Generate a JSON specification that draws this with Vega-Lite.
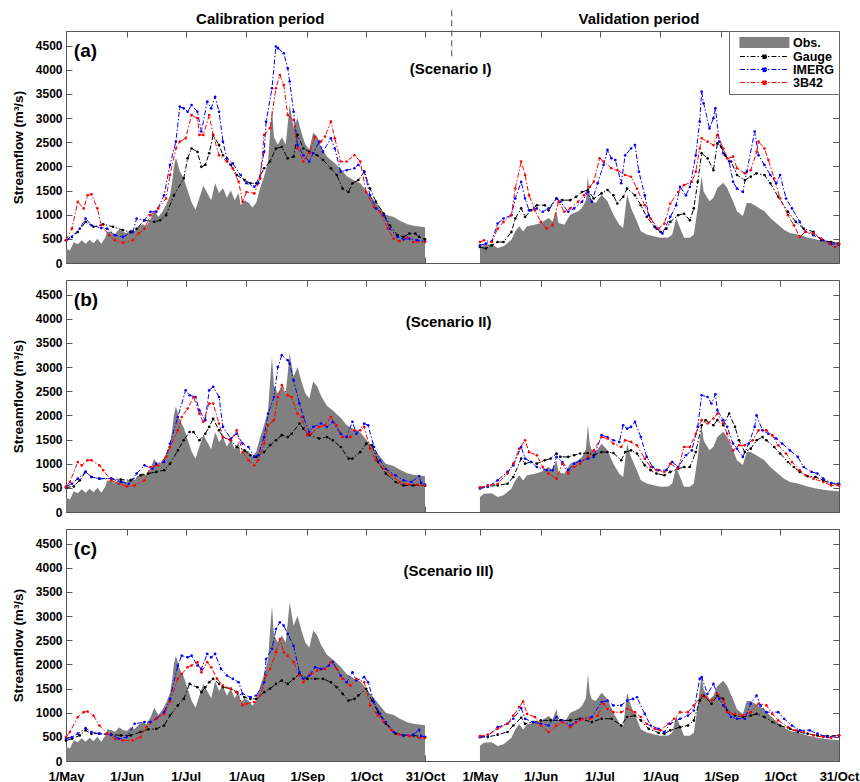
{
"$schema": "https://vega.github.io/schema/vega-lite/v6.json",
"padding": {"left": 10, "right": 0, "top": 5, "bottom": 0},
"spacing": 9,
"config": {
  "font": "Liberation Sans",
  "view": {"stroke": "#555", "strokeWidth": 1},
  "axis": {"labelFont": "Liberation Sans", "labelFontWeight": "bold", "labelFontSize": 12, "labelColor": "#000", "titleFont": "Liberation Sans", "titleFontWeight": "bold", "titleColor": "#000", "tickColor": "#555", "domain": false, "grid": false, "labelOverlap": false, "labelFlush": false},
  "text": {"font": "Liberation Sans", "fontWeight": "bold", "color": "#000"}
},
"resolve": {"scale": {"color": "independent"}, "legend": {"color": "independent"}},
"datasets": {
"obs": [
{"q":"c","t":0,"v":300},{"q":"c","t":2,"v":260},{"q":"c","t":4,"v":430},{"q":"c","t":6,"v":390},{"q":"c","t":8,"v":470},{"q":"c","t":10,"v":400},{"q":"c","t":12,"v":480},{"q":"c","t":14,"v":410},{"q":"c","t":16,"v":500},{"q":"c","t":18,"v":400},{"q":"c","t":20,"v":520},{"q":"c","t":21,"v":650},{"q":"c","t":23,"v":640},{"q":"c","t":25,"v":600},{"q":"c","t":27,"v":700},{"q":"c","t":29,"v":640},{"q":"c","t":31,"v":620},{"q":"c","t":33,"v":700},{"q":"c","t":35,"v":660},{"q":"c","t":37,"v":750},{"q":"c","t":39,"v":800},{"q":"c","t":41,"v":760},{"q":"c","t":43,"v":900},{"q":"c","t":45,"v":1100},{"q":"c","t":47,"v":950},{"q":"c","t":49,"v":1050},{"q":"c","t":51,"v":1200},{"q":"c","t":53,"v":1400},{"q":"c","t":54,"v":1650},{"q":"c","t":55,"v":2000},{"q":"c","t":56,"v":2180},{"q":"c","t":57,"v":2050},{"q":"c","t":58,"v":1900},{"q":"c","t":60,"v":1750},{"q":"c","t":62,"v":1500},{"q":"c","t":64,"v":1250},{"q":"c","t":66,"v":1100},{"q":"c","t":68,"v":1350},{"q":"c","t":70,"v":1600},{"q":"c","t":72,"v":1450},{"q":"c","t":74,"v":1300},{"q":"c","t":76,"v":1650},{"q":"c","t":78,"v":1450},{"q":"c","t":80,"v":1550},{"q":"c","t":82,"v":1350},{"q":"c","t":84,"v":1500},{"q":"c","t":86,"v":1300},{"q":"c","t":88,"v":1450},{"q":"c","t":89,"v":1200},{"q":"c","t":91,"v":1300},{"q":"c","t":93,"v":1250},{"q":"c","t":95,"v":1150},{"q":"c","t":97,"v":1250},{"q":"c","t":99,"v":1550},{"q":"c","t":101,"v":1800},{"q":"c","t":103,"v":2100},{"q":"c","t":104,"v":2700},{"q":"c","t":105,"v":3200},{"q":"c","t":106,"v":2600},{"q":"c","t":108,"v":2450},{"q":"c","t":110,"v":2600},{"q":"c","t":112,"v":2450},{"q":"c","t":114,"v":3280},{"q":"c","t":116,"v":2800},{"q":"c","t":118,"v":3000},{"q":"c","t":120,"v":2700},{"q":"c","t":122,"v":2450},{"q":"c","t":124,"v":2350},{"q":"c","t":126,"v":2700},{"q":"c","t":128,"v":2600},{"q":"c","t":130,"v":2400},{"q":"c","t":133,"v":2200},{"q":"c","t":136,"v":2100},{"q":"c","t":140,"v":1950},{"q":"c","t":143,"v":1800},{"q":"c","t":147,"v":1700},{"q":"c","t":150,"v":1650},{"q":"c","t":153,"v":1500},{"q":"c","t":157,"v":1300},{"q":"c","t":160,"v":1150},{"q":"c","t":163,"v":1000},{"q":"c","t":167,"v":950},{"q":"c","t":170,"v":880},{"q":"c","t":174,"v":800},{"q":"c","t":177,"v":770},{"q":"c","t":181,"v":750},{"q":"c","t":183,"v":740},
{"q":"v","t":211,"v":310},{"q":"v","t":213,"v":380},{"q":"v","t":217,"v":390},{"q":"v","t":220,"v":310},{"q":"v","t":223,"v":345},{"q":"v","t":227,"v":480},{"q":"v","t":229,"v":650},{"q":"v","t":231,"v":760},{"q":"v","t":233,"v":650},{"q":"v","t":235,"v":760},{"q":"v","t":239,"v":790},{"q":"v","t":242,"v":830},{"q":"v","t":246,"v":930},{"q":"v","t":248,"v":860},{"q":"v","t":250,"v":1070},{"q":"v","t":251,"v":830},{"q":"v","t":254,"v":790},{"q":"v","t":257,"v":1000},{"q":"v","t":261,"v":1070},{"q":"v","t":263,"v":1140},{"q":"v","t":265,"v":1300},{"q":"v","t":266,"v":1795},{"q":"v","t":267,"v":1400},{"q":"v","t":268,"v":1280},{"q":"v","t":270,"v":1240},{"q":"v","t":273,"v":1410},{"q":"v","t":276,"v":1280},{"q":"v","t":279,"v":1000},{"q":"v","t":282,"v":790},{"q":"v","t":284,"v":725},{"q":"v","t":286,"v":1410},{"q":"v","t":288,"v":1140},{"q":"v","t":291,"v":860},{"q":"v","t":293,"v":655},{"q":"v","t":296,"v":590},{"q":"v","t":300,"v":550},{"q":"v","t":303,"v":520},{"q":"v","t":307,"v":530},{"q":"v","t":309,"v":590},{"q":"v","t":311,"v":930},{"q":"v","t":313,"v":725},{"q":"v","t":315,"v":520},{"q":"v","t":318,"v":520},{"q":"v","t":320,"v":590},{"q":"v","t":322,"v":1140},{"q":"v","t":324,"v":1795},{"q":"v","t":325,"v":1480},{"q":"v","t":328,"v":1280},{"q":"v","t":330,"v":1350},{"q":"v","t":332,"v":1550},{"q":"v","t":335,"v":1660},{"q":"v","t":337,"v":1550},{"q":"v","t":340,"v":1280},{"q":"v","t":342,"v":1070},{"q":"v","t":345,"v":970},{"q":"v","t":347,"v":1240},{"q":"v","t":349,"v":1240},{"q":"v","t":352,"v":1170},{"q":"v","t":356,"v":1070},{"q":"v","t":359,"v":930},{"q":"v","t":363,"v":790},{"q":"v","t":366,"v":690},{"q":"v","t":369,"v":620},{"q":"v","t":373,"v":590},{"q":"v","t":378,"v":530},{"q":"v","t":383,"v":480},{"q":"v","t":388,"v":450},{"q":"v","t":394,"v":430}
],
"sim": [
{"p":"a","s":"Gauge","q":"c","t":0,"v":470},{"p":"a","s":"Gauge","q":"c","t":6,"v":640},{"p":"a","s":"Gauge","q":"c","t":10,"v":850},{"p":"a","s":"Gauge","q":"c","t":14,"v":750},{"p":"a","s":"Gauge","q":"c","t":19,"v":800},{"p":"a","s":"Gauge","q":"c","t":24,"v":750},{"p":"a","s":"Gauge","q":"c","t":29,"v":680},{"p":"a","s":"Gauge","q":"c","t":33,"v":640},{"p":"a","s":"Gauge","q":"c","t":36,"v":710},{"p":"a","s":"Gauge","q":"c","t":40,"v":885},{"p":"a","s":"Gauge","q":"c","t":45,"v":850},{"p":"a","s":"Gauge","q":"c","t":48,"v":885},{"p":"a","s":"Gauge","q":"c","t":51,"v":990},{"p":"a","s":"Gauge","q":"c","t":55,"v":1400},{"p":"a","s":"Gauge","q":"c","t":60,"v":1750},{"p":"a","s":"Gauge","q":"c","t":62,"v":2165},{"p":"a","s":"Gauge","q":"c","t":64,"v":2370},{"p":"a","s":"Gauge","q":"c","t":67,"v":2300},{"p":"a","s":"Gauge","q":"c","t":69,"v":1990},{"p":"a","s":"Gauge","q":"c","t":71,"v":2030},{"p":"a","s":"Gauge","q":"c","t":73,"v":2270},{"p":"a","s":"Gauge","q":"c","t":75,"v":2650},{"p":"a","s":"Gauge","q":"c","t":78,"v":2440},{"p":"a","s":"Gauge","q":"c","t":80,"v":2230},{"p":"a","s":"Gauge","q":"c","t":84,"v":2030},{"p":"a","s":"Gauge","q":"c","t":87,"v":1820},{"p":"a","s":"Gauge","q":"c","t":91,"v":1715},{"p":"a","s":"Gauge","q":"c","t":94,"v":1650},{"p":"a","s":"Gauge","q":"c","t":97,"v":1650},{"p":"a","s":"Gauge","q":"c","t":101,"v":1960},{"p":"a","s":"Gauge","q":"c","t":104,"v":2100},{"p":"a","s":"Gauge","q":"c","t":107,"v":2370},{"p":"a","s":"Gauge","q":"c","t":110,"v":2400},{"p":"a","s":"Gauge","q":"c","t":113,"v":2165},{"p":"a","s":"Gauge","q":"c","t":116,"v":2200},{"p":"a","s":"Gauge","q":"c","t":118,"v":2650},{"p":"a","s":"Gauge","q":"c","t":121,"v":2370},{"p":"a","s":"Gauge","q":"c","t":124,"v":2300},{"p":"a","s":"Gauge","q":"c","t":128,"v":2230},{"p":"a","s":"Gauge","q":"c","t":131,"v":2130},{"p":"a","s":"Gauge","q":"c","t":135,"v":1960},{"p":"a","s":"Gauge","q":"c","t":138,"v":1820},{"p":"a","s":"Gauge","q":"c","t":141,"v":1540},{"p":"a","s":"Gauge","q":"c","t":144,"v":1470},{"p":"a","s":"Gauge","q":"c","t":146,"v":1650},{"p":"a","s":"Gauge","q":"c","t":149,"v":1715},{"p":"a","s":"Gauge","q":"c","t":152,"v":1890},{"p":"a","s":"Gauge","q":"c","t":155,"v":1540},{"p":"a","s":"Gauge","q":"c","t":158,"v":1265},{"p":"a","s":"Gauge","q":"c","t":162,"v":1020},{"p":"a","s":"Gauge","q":"c","t":165,"v":780},{"p":"a","s":"Gauge","q":"c","t":169,"v":575},{"p":"a","s":"Gauge","q":"c","t":172,"v":540},{"p":"a","s":"Gauge","q":"c","t":175,"v":610},{"p":"a","s":"Gauge","q":"c","t":178,"v":610},{"p":"a","s":"Gauge","q":"c","t":180,"v":540},{"p":"a","s":"Gauge","q":"c","t":183,"v":490},
{"p":"a","s":"Gauge","q":"v","t":211,"v":330},{"p":"a","s":"Gauge","q":"v","t":214,"v":300},{"p":"a","s":"Gauge","q":"v","t":217,"v":365},{"p":"a","s":"Gauge","q":"v","t":220,"v":435},{"p":"a","s":"Gauge","q":"v","t":223,"v":435},{"p":"a","s":"Gauge","q":"v","t":227,"v":640},{"p":"a","s":"Gauge","q":"v","t":229,"v":920},{"p":"a","s":"Gauge","q":"v","t":232,"v":1130},{"p":"a","s":"Gauge","q":"v","t":234,"v":955},{"p":"a","s":"Gauge","q":"v","t":237,"v":1090},{"p":"a","s":"Gauge","q":"v","t":240,"v":1195},{"p":"a","s":"Gauge","q":"v","t":244,"v":1195},{"p":"a","s":"Gauge","q":"v","t":246,"v":1090},{"p":"a","s":"Gauge","q":"v","t":250,"v":1335},{"p":"a","s":"Gauge","q":"v","t":253,"v":1300},{"p":"a","s":"Gauge","q":"v","t":257,"v":1300},{"p":"a","s":"Gauge","q":"v","t":260,"v":1370},{"p":"a","s":"Gauge","q":"v","t":263,"v":1470},{"p":"a","s":"Gauge","q":"v","t":266,"v":1510},{"p":"a","s":"Gauge","q":"v","t":269,"v":1335},{"p":"a","s":"Gauge","q":"v","t":273,"v":1440},{"p":"a","s":"Gauge","q":"v","t":276,"v":1510},{"p":"a","s":"Gauge","q":"v","t":279,"v":1400},{"p":"a","s":"Gauge","q":"v","t":281,"v":1230},{"p":"a","s":"Gauge","q":"v","t":284,"v":1370},{"p":"a","s":"Gauge","q":"v","t":286,"v":1540},{"p":"a","s":"Gauge","q":"v","t":290,"v":1400},{"p":"a","s":"Gauge","q":"v","t":293,"v":1195},{"p":"a","s":"Gauge","q":"v","t":296,"v":955},{"p":"a","s":"Gauge","q":"v","t":300,"v":745},{"p":"a","s":"Gauge","q":"v","t":303,"v":645},{"p":"a","s":"Gauge","q":"v","t":306,"v":710},{"p":"a","s":"Gauge","q":"v","t":308,"v":850},{"p":"a","s":"Gauge","q":"v","t":312,"v":990},{"p":"a","s":"Gauge","q":"v","t":315,"v":1020},{"p":"a","s":"Gauge","q":"v","t":318,"v":885},{"p":"a","s":"Gauge","q":"v","t":320,"v":1130},{"p":"a","s":"Gauge","q":"v","t":322,"v":1680},{"p":"a","s":"Gauge","q":"v","t":324,"v":2270},{"p":"a","s":"Gauge","q":"v","t":327,"v":2165},{"p":"a","s":"Gauge","q":"v","t":330,"v":1920},{"p":"a","s":"Gauge","q":"v","t":332,"v":2475},{"p":"a","s":"Gauge","q":"v","t":334,"v":2405},{"p":"a","s":"Gauge","q":"v","t":336,"v":2230},{"p":"a","s":"Gauge","q":"v","t":339,"v":2100},{"p":"a","s":"Gauge","q":"v","t":342,"v":1820},{"p":"a","s":"Gauge","q":"v","t":346,"v":1715},{"p":"a","s":"Gauge","q":"v","t":349,"v":1785},{"p":"a","s":"Gauge","q":"v","t":352,"v":1855},{"p":"a","s":"Gauge","q":"v","t":356,"v":1820},{"p":"a","s":"Gauge","q":"v","t":359,"v":1650},{"p":"a","s":"Gauge","q":"v","t":363,"v":1370},{"p":"a","s":"Gauge","q":"v","t":368,"v":1060},{"p":"a","s":"Gauge","q":"v","t":372,"v":850},{"p":"a","s":"Gauge","q":"v","t":376,"v":710},{"p":"a","s":"Gauge","q":"v","t":381,"v":645},{"p":"a","s":"Gauge","q":"v","t":385,"v":470},{"p":"a","s":"Gauge","q":"v","t":390,"v":435},{"p":"a","s":"Gauge","q":"v","t":394,"v":400},
{"p":"a","s":"IMERG","q":"c","t":0,"v":470},{"p":"a","s":"IMERG","q":"c","t":3,"v":540},{"p":"a","s":"IMERG","q":"c","t":7,"v":710},{"p":"a","s":"IMERG","q":"c","t":10,"v":920},{"p":"a","s":"IMERG","q":"c","t":13,"v":780},{"p":"a","s":"IMERG","q":"c","t":18,"v":725},{"p":"a","s":"IMERG","q":"c","t":21,"v":710},{"p":"a","s":"IMERG","q":"c","t":25,"v":575},{"p":"a","s":"IMERG","q":"c","t":29,"v":540},{"p":"a","s":"IMERG","q":"c","t":34,"v":640},{"p":"a","s":"IMERG","q":"c","t":36,"v":920},{"p":"a","s":"IMERG","q":"c","t":40,"v":885},{"p":"a","s":"IMERG","q":"c","t":43,"v":1060},{"p":"a","s":"IMERG","q":"c","t":46,"v":1060},{"p":"a","s":"IMERG","q":"c","t":50,"v":1400},{"p":"a","s":"IMERG","q":"c","t":53,"v":2030},{"p":"a","s":"IMERG","q":"c","t":56,"v":2510},{"p":"a","s":"IMERG","q":"c","t":58,"v":3235},{"p":"a","s":"IMERG","q":"c","t":60,"v":3200},{"p":"a","s":"IMERG","q":"c","t":62,"v":3130},{"p":"a","s":"IMERG","q":"c","t":64,"v":3270},{"p":"a","s":"IMERG","q":"c","t":67,"v":3130},{"p":"a","s":"IMERG","q":"c","t":69,"v":2720},{"p":"a","s":"IMERG","q":"c","t":72,"v":3340},{"p":"a","s":"IMERG","q":"c","t":74,"v":3200},{"p":"a","s":"IMERG","q":"c","t":76,"v":3440},{"p":"a","s":"IMERG","q":"c","t":78,"v":3130},{"p":"a","s":"IMERG","q":"c","t":80,"v":2510},{"p":"a","s":"IMERG","q":"c","t":82,"v":2165},{"p":"a","s":"IMERG","q":"c","t":85,"v":2060},{"p":"a","s":"IMERG","q":"c","t":89,"v":1820},{"p":"a","s":"IMERG","q":"c","t":92,"v":1650},{"p":"a","s":"IMERG","q":"c","t":96,"v":1580},{"p":"a","s":"IMERG","q":"c","t":98,"v":1650},{"p":"a","s":"IMERG","q":"c","t":101,"v":2300},{"p":"a","s":"IMERG","q":"c","t":102,"v":2925},{"p":"a","s":"IMERG","q":"c","t":105,"v":3615},{"p":"a","s":"IMERG","q":"c","t":107,"v":4480},{"p":"a","s":"IMERG","q":"c","t":108,"v":4445},{"p":"a","s":"IMERG","q":"c","t":111,"v":4340},{"p":"a","s":"IMERG","q":"c","t":113,"v":4030},{"p":"a","s":"IMERG","q":"c","t":114,"v":3755},{"p":"a","s":"IMERG","q":"c","t":116,"v":3130},{"p":"a","s":"IMERG","q":"c","t":118,"v":2440},{"p":"a","s":"IMERG","q":"c","t":121,"v":2230},{"p":"a","s":"IMERG","q":"c","t":124,"v":2100},{"p":"a","s":"IMERG","q":"c","t":126,"v":2270},{"p":"a","s":"IMERG","q":"c","t":129,"v":2510},{"p":"a","s":"IMERG","q":"c","t":131,"v":2300},{"p":"a","s":"IMERG","q":"c","t":135,"v":2580},{"p":"a","s":"IMERG","q":"c","t":137,"v":2370},{"p":"a","s":"IMERG","q":"c","t":140,"v":1890},{"p":"a","s":"IMERG","q":"c","t":143,"v":1920},{"p":"a","s":"IMERG","q":"c","t":147,"v":1960},{"p":"a","s":"IMERG","q":"c","t":149,"v":2030},{"p":"a","s":"IMERG","q":"c","t":152,"v":1890},{"p":"a","s":"IMERG","q":"c","t":155,"v":1400},{"p":"a","s":"IMERG","q":"c","t":158,"v":1130},{"p":"a","s":"IMERG","q":"c","t":162,"v":990},{"p":"a","s":"IMERG","q":"c","t":165,"v":710},{"p":"a","s":"IMERG","q":"c","t":169,"v":540},{"p":"a","s":"IMERG","q":"c","t":172,"v":490},{"p":"a","s":"IMERG","q":"c","t":175,"v":505},{"p":"a","s":"IMERG","q":"c","t":179,"v":470},{"p":"a","s":"IMERG","q":"c","t":183,"v":450},
{"p":"a","s":"IMERG","q":"v","t":211,"v":365},{"p":"a","s":"IMERG","q":"v","t":214,"v":400},{"p":"a","s":"IMERG","q":"v","t":217,"v":450},{"p":"a","s":"IMERG","q":"v","t":220,"v":815},{"p":"a","s":"IMERG","q":"v","t":223,"v":920},{"p":"a","s":"IMERG","q":"v","t":227,"v":990},{"p":"a","s":"IMERG","q":"v","t":229,"v":1335},{"p":"a","s":"IMERG","q":"v","t":232,"v":1680},{"p":"a","s":"IMERG","q":"v","t":234,"v":1335},{"p":"a","s":"IMERG","q":"v","t":236,"v":1090},{"p":"a","s":"IMERG","q":"v","t":240,"v":1130},{"p":"a","s":"IMERG","q":"v","t":243,"v":1060},{"p":"a","s":"IMERG","q":"v","t":246,"v":1130},{"p":"a","s":"IMERG","q":"v","t":250,"v":1335},{"p":"a","s":"IMERG","q":"v","t":252,"v":1265},{"p":"a","s":"IMERG","q":"v","t":256,"v":1060},{"p":"a","s":"IMERG","q":"v","t":259,"v":1130},{"p":"a","s":"IMERG","q":"v","t":263,"v":1265},{"p":"a","s":"IMERG","q":"v","t":266,"v":1470},{"p":"a","s":"IMERG","q":"v","t":268,"v":1265},{"p":"a","s":"IMERG","q":"v","t":271,"v":1650},{"p":"a","s":"IMERG","q":"v","t":274,"v":2030},{"p":"a","s":"IMERG","q":"v","t":276,"v":2340},{"p":"a","s":"IMERG","q":"v","t":278,"v":2165},{"p":"a","s":"IMERG","q":"v","t":280,"v":2130},{"p":"a","s":"IMERG","q":"v","t":283,"v":1650},{"p":"a","s":"IMERG","q":"v","t":285,"v":2230},{"p":"a","s":"IMERG","q":"v","t":288,"v":2370},{"p":"a","s":"IMERG","q":"v","t":290,"v":2440},{"p":"a","s":"IMERG","q":"v","t":292,"v":1890},{"p":"a","s":"IMERG","q":"v","t":295,"v":1400},{"p":"a","s":"IMERG","q":"v","t":297,"v":990},{"p":"a","s":"IMERG","q":"v","t":301,"v":710},{"p":"a","s":"IMERG","q":"v","t":304,"v":610},{"p":"a","s":"IMERG","q":"v","t":308,"v":955},{"p":"a","s":"IMERG","q":"v","t":311,"v":1195},{"p":"a","s":"IMERG","q":"v","t":313,"v":1575},{"p":"a","s":"IMERG","q":"v","t":316,"v":1400},{"p":"a","s":"IMERG","q":"v","t":318,"v":1575},{"p":"a","s":"IMERG","q":"v","t":321,"v":2230},{"p":"a","s":"IMERG","q":"v","t":323,"v":2925},{"p":"a","s":"IMERG","q":"v","t":324,"v":3545},{"p":"a","s":"IMERG","q":"v","t":325,"v":3305},{"p":"a","s":"IMERG","q":"v","t":328,"v":2785},{"p":"a","s":"IMERG","q":"v","t":330,"v":2995},{"p":"a","s":"IMERG","q":"v","t":331,"v":3200},{"p":"a","s":"IMERG","q":"v","t":333,"v":2510},{"p":"a","s":"IMERG","q":"v","t":335,"v":2270},{"p":"a","s":"IMERG","q":"v","t":338,"v":2100},{"p":"a","s":"IMERG","q":"v","t":340,"v":1680},{"p":"a","s":"IMERG","q":"v","t":342,"v":1540},{"p":"a","s":"IMERG","q":"v","t":345,"v":1470},{"p":"a","s":"IMERG","q":"v","t":347,"v":1890},{"p":"a","s":"IMERG","q":"v","t":351,"v":2720},{"p":"a","s":"IMERG","q":"v","t":353,"v":2230},{"p":"a","s":"IMERG","q":"v","t":356,"v":2030},{"p":"a","s":"IMERG","q":"v","t":359,"v":1820},{"p":"a","s":"IMERG","q":"v","t":362,"v":1650},{"p":"a","s":"IMERG","q":"v","t":364,"v":1820},{"p":"a","s":"IMERG","q":"v","t":367,"v":1335},{"p":"a","s":"IMERG","q":"v","t":370,"v":1130},{"p":"a","s":"IMERG","q":"v","t":374,"v":850},{"p":"a","s":"IMERG","q":"v","t":377,"v":645},{"p":"a","s":"IMERG","q":"v","t":381,"v":575},{"p":"a","s":"IMERG","q":"v","t":386,"v":470},{"p":"a","s":"IMERG","q":"v","t":390,"v":400},{"p":"a","s":"IMERG","q":"v","t":394,"v":380},
{"p":"a","s":"3B42","q":"c","t":0,"v":470},{"p":"a","s":"3B42","q":"c","t":3,"v":710},{"p":"a","s":"3B42","q":"c","t":6,"v":1265},{"p":"a","s":"3B42","q":"c","t":9,"v":1130},{"p":"a","s":"3B42","q":"c","t":11,"v":1400},{"p":"a","s":"3B42","q":"c","t":13,"v":1420},{"p":"a","s":"3B42","q":"c","t":16,"v":1130},{"p":"a","s":"3B42","q":"c","t":18,"v":780},{"p":"a","s":"3B42","q":"c","t":22,"v":575},{"p":"a","s":"3B42","q":"c","t":25,"v":470},{"p":"a","s":"3B42","q":"c","t":29,"v":420},{"p":"a","s":"3B42","q":"c","t":34,"v":470},{"p":"a","s":"3B42","q":"c","t":37,"v":610},{"p":"a","s":"3B42","q":"c","t":40,"v":710},{"p":"a","s":"3B42","q":"c","t":43,"v":990},{"p":"a","s":"3B42","q":"c","t":47,"v":1130},{"p":"a","s":"3B42","q":"c","t":51,"v":1335},{"p":"a","s":"3B42","q":"c","t":53,"v":1820},{"p":"a","s":"3B42","q":"c","t":56,"v":2370},{"p":"a","s":"3B42","q":"c","t":58,"v":2510},{"p":"a","s":"3B42","q":"c","t":61,"v":2580},{"p":"a","s":"3B42","q":"c","t":64,"v":3060},{"p":"a","s":"3B42","q":"c","t":67,"v":2995},{"p":"a","s":"3B42","q":"c","t":68,"v":2650},{"p":"a","s":"3B42","q":"c","t":70,"v":2650},{"p":"a","s":"3B42","q":"c","t":73,"v":3060},{"p":"a","s":"3B42","q":"c","t":75,"v":2650},{"p":"a","s":"3B42","q":"c","t":78,"v":2230},{"p":"a","s":"3B42","q":"c","t":82,"v":2100},{"p":"a","s":"3B42","q":"c","t":85,"v":1960},{"p":"a","s":"3B42","q":"c","t":88,"v":1680},{"p":"a","s":"3B42","q":"c","t":90,"v":1265},{"p":"a","s":"3B42","q":"c","t":92,"v":1470},{"p":"a","s":"3B42","q":"c","t":96,"v":1440},{"p":"a","s":"3B42","q":"c","t":99,"v":1750},{"p":"a","s":"3B42","q":"c","t":101,"v":2650},{"p":"a","s":"3B42","q":"c","t":104,"v":2790},{"p":"a","s":"3B42","q":"c","t":107,"v":3615},{"p":"a","s":"3B42","q":"c","t":109,"v":3890},{"p":"a","s":"3B42","q":"c","t":111,"v":3685},{"p":"a","s":"3B42","q":"c","t":113,"v":3060},{"p":"a","s":"3B42","q":"c","t":116,"v":2960},{"p":"a","s":"3B42","q":"c","t":118,"v":2370},{"p":"a","s":"3B42","q":"c","t":121,"v":2100},{"p":"a","s":"3B42","q":"c","t":124,"v":2270},{"p":"a","s":"3B42","q":"c","t":127,"v":2615},{"p":"a","s":"3B42","q":"c","t":130,"v":2510},{"p":"a","s":"3B42","q":"c","t":132,"v":2615},{"p":"a","s":"3B42","q":"c","t":135,"v":2925},{"p":"a","s":"3B42","q":"c","t":137,"v":2580},{"p":"a","s":"3B42","q":"c","t":140,"v":2100},{"p":"a","s":"3B42","q":"c","t":143,"v":2100},{"p":"a","s":"3B42","q":"c","t":147,"v":2230},{"p":"a","s":"3B42","q":"c","t":150,"v":2100},{"p":"a","s":"3B42","q":"c","t":153,"v":1470},{"p":"a","s":"3B42","q":"c","t":157,"v":1160},{"p":"a","s":"3B42","q":"c","t":160,"v":1060},{"p":"a","s":"3B42","q":"c","t":164,"v":710},{"p":"a","s":"3B42","q":"c","t":167,"v":505},{"p":"a","s":"3B42","q":"c","t":170,"v":450},{"p":"a","s":"3B42","q":"c","t":174,"v":520},{"p":"a","s":"3B42","q":"c","t":177,"v":435},{"p":"a","s":"3B42","q":"c","t":183,"v":435},
{"p":"a","s":"3B42","q":"v","t":211,"v":435},{"p":"a","s":"3B42","q":"v","t":213,"v":470},{"p":"a","s":"3B42","q":"v","t":217,"v":435},{"p":"a","s":"3B42","q":"v","t":220,"v":710},{"p":"a","s":"3B42","q":"v","t":223,"v":850},{"p":"a","s":"3B42","q":"v","t":227,"v":990},{"p":"a","s":"3B42","q":"v","t":229,"v":1540},{"p":"a","s":"3B42","q":"v","t":232,"v":2100},{"p":"a","s":"3B42","q":"v","t":234,"v":1820},{"p":"a","s":"3B42","q":"v","t":236,"v":1400},{"p":"a","s":"3B42","q":"v","t":239,"v":1090},{"p":"a","s":"3B42","q":"v","t":242,"v":850},{"p":"a","s":"3B42","q":"v","t":245,"v":710},{"p":"a","s":"3B42","q":"v","t":248,"v":780},{"p":"a","s":"3B42","q":"v","t":251,"v":1265},{"p":"a","s":"3B42","q":"v","t":254,"v":1060},{"p":"a","s":"3B42","q":"v","t":257,"v":1130},{"p":"a","s":"3B42","q":"v","t":261,"v":1265},{"p":"a","s":"3B42","q":"v","t":264,"v":1400},{"p":"a","s":"3B42","q":"v","t":267,"v":1575},{"p":"a","s":"3B42","q":"v","t":269,"v":1680},{"p":"a","s":"3B42","q":"v","t":272,"v":2165},{"p":"a","s":"3B42","q":"v","t":274,"v":2100},{"p":"a","s":"3B42","q":"v","t":278,"v":1960},{"p":"a","s":"3B42","q":"v","t":281,"v":1920},{"p":"a","s":"3B42","q":"v","t":285,"v":1820},{"p":"a","s":"3B42","q":"v","t":288,"v":1785},{"p":"a","s":"3B42","q":"v","t":291,"v":1540},{"p":"a","s":"3B42","q":"v","t":295,"v":1195},{"p":"a","s":"3B42","q":"v","t":298,"v":920},{"p":"a","s":"3B42","q":"v","t":302,"v":710},{"p":"a","s":"3B42","q":"v","t":305,"v":815},{"p":"a","s":"3B42","q":"v","t":308,"v":1230},{"p":"a","s":"3B42","q":"v","t":312,"v":1470},{"p":"a","s":"3B42","q":"v","t":315,"v":1610},{"p":"a","s":"3B42","q":"v","t":319,"v":1680},{"p":"a","s":"3B42","q":"v","t":321,"v":1890},{"p":"a","s":"3B42","q":"v","t":323,"v":2370},{"p":"a","s":"3B42","q":"v","t":324,"v":2580},{"p":"a","s":"3B42","q":"v","t":327,"v":2510},{"p":"a","s":"3B42","q":"v","t":330,"v":2440},{"p":"a","s":"3B42","q":"v","t":332,"v":2650},{"p":"a","s":"3B42","q":"v","t":335,"v":2370},{"p":"a","s":"3B42","q":"v","t":337,"v":2165},{"p":"a","s":"3B42","q":"v","t":340,"v":2200},{"p":"a","s":"3B42","q":"v","t":342,"v":1960},{"p":"a","s":"3B42","q":"v","t":346,"v":1855},{"p":"a","s":"3B42","q":"v","t":349,"v":1920},{"p":"a","s":"3B42","q":"v","t":352,"v":2300},{"p":"a","s":"3B42","q":"v","t":353,"v":2510},{"p":"a","s":"3B42","q":"v","t":356,"v":2370},{"p":"a","s":"3B42","q":"v","t":358,"v":2130},{"p":"a","s":"3B42","q":"v","t":361,"v":1750},{"p":"a","s":"3B42","q":"v","t":364,"v":1335},{"p":"a","s":"3B42","q":"v","t":368,"v":990},{"p":"a","s":"3B42","q":"v","t":371,"v":780},{"p":"a","s":"3B42","q":"v","t":374,"v":540},{"p":"a","s":"3B42","q":"v","t":377,"v":645},{"p":"a","s":"3B42","q":"v","t":381,"v":610},{"p":"a","s":"3B42","q":"v","t":385,"v":505},{"p":"a","s":"3B42","q":"v","t":389,"v":400},{"p":"a","s":"3B42","q":"v","t":392,"v":330},{"p":"a","s":"3B42","q":"v","t":394,"v":400},
{"p":"b","s":"Gauge","q":"c","t":0,"v":505},{"p":"b","s":"Gauge","q":"c","t":4,"v":530},{"p":"b","s":"Gauge","q":"c","t":7,"v":655},{"p":"b","s":"Gauge","q":"c","t":10,"v":830},{"p":"b","s":"Gauge","q":"c","t":13,"v":725},{"p":"b","s":"Gauge","q":"c","t":17,"v":690},{"p":"b","s":"Gauge","q":"c","t":23,"v":690},{"p":"b","s":"Gauge","q":"c","t":28,"v":670},{"p":"b","s":"Gauge","q":"c","t":33,"v":655},{"p":"b","s":"Gauge","q":"c","t":38,"v":760},{"p":"b","s":"Gauge","q":"c","t":42,"v":795},{"p":"b","s":"Gauge","q":"c","t":46,"v":830},{"p":"b","s":"Gauge","q":"c","t":50,"v":865},{"p":"b","s":"Gauge","q":"c","t":53,"v":1000},{"p":"b","s":"Gauge","q":"c","t":57,"v":1275},{"p":"b","s":"Gauge","q":"c","t":60,"v":1485},{"p":"b","s":"Gauge","q":"c","t":63,"v":1655},{"p":"b","s":"Gauge","q":"c","t":65,"v":1655},{"p":"b","s":"Gauge","q":"c","t":68,"v":1485},{"p":"b","s":"Gauge","q":"c","t":71,"v":1620},{"p":"b","s":"Gauge","q":"c","t":73,"v":1760},{"p":"b","s":"Gauge","q":"c","t":75,"v":1930},{"p":"b","s":"Gauge","q":"c","t":78,"v":1690},{"p":"b","s":"Gauge","q":"c","t":80,"v":1550},{"p":"b","s":"Gauge","q":"c","t":84,"v":1485},{"p":"b","s":"Gauge","q":"c","t":87,"v":1345},{"p":"b","s":"Gauge","q":"c","t":91,"v":1275},{"p":"b","s":"Gauge","q":"c","t":94,"v":1175},{"p":"b","s":"Gauge","q":"c","t":97,"v":1140},{"p":"b","s":"Gauge","q":"c","t":101,"v":1240},{"p":"b","s":"Gauge","q":"c","t":104,"v":1380},{"p":"b","s":"Gauge","q":"c","t":107,"v":1485},{"p":"b","s":"Gauge","q":"c","t":110,"v":1590},{"p":"b","s":"Gauge","q":"c","t":113,"v":1550},{"p":"b","s":"Gauge","q":"c","t":115,"v":1620},{"p":"b","s":"Gauge","q":"c","t":119,"v":1830},{"p":"b","s":"Gauge","q":"c","t":121,"v":1725},{"p":"b","s":"Gauge","q":"c","t":124,"v":1590},{"p":"b","s":"Gauge","q":"c","t":129,"v":1520},{"p":"b","s":"Gauge","q":"c","t":133,"v":1550},{"p":"b","s":"Gauge","q":"c","t":136,"v":1485},{"p":"b","s":"Gauge","q":"c","t":140,"v":1345},{"p":"b","s":"Gauge","q":"c","t":144,"v":1105},{"p":"b","s":"Gauge","q":"c","t":146,"v":1105},{"p":"b","s":"Gauge","q":"c","t":150,"v":1240},{"p":"b","s":"Gauge","q":"c","t":153,"v":1415},{"p":"b","s":"Gauge","q":"c","t":156,"v":1380},{"p":"b","s":"Gauge","q":"c","t":159,"v":1035},{"p":"b","s":"Gauge","q":"c","t":163,"v":795},{"p":"b","s":"Gauge","q":"c","t":168,"v":620},{"p":"b","s":"Gauge","q":"c","t":172,"v":550},{"p":"b","s":"Gauge","q":"c","t":177,"v":550},{"p":"b","s":"Gauge","q":"c","t":183,"v":550},
{"p":"b","s":"Gauge","q":"v","t":211,"v":505},{"p":"b","s":"Gauge","q":"v","t":215,"v":530},{"p":"b","s":"Gauge","q":"v","t":220,"v":550},{"p":"b","s":"Gauge","q":"v","t":225,"v":585},{"p":"b","s":"Gauge","q":"v","t":228,"v":725},{"p":"b","s":"Gauge","q":"v","t":232,"v":1105},{"p":"b","s":"Gauge","q":"v","t":234,"v":1000},{"p":"b","s":"Gauge","q":"v","t":237,"v":1035},{"p":"b","s":"Gauge","q":"v","t":240,"v":1000},{"p":"b","s":"Gauge","q":"v","t":244,"v":1070},{"p":"b","s":"Gauge","q":"v","t":247,"v":1105},{"p":"b","s":"Gauge","q":"v","t":250,"v":1210},{"p":"b","s":"Gauge","q":"v","t":252,"v":1140},{"p":"b","s":"Gauge","q":"v","t":256,"v":1140},{"p":"b","s":"Gauge","q":"v","t":259,"v":1175},{"p":"b","s":"Gauge","q":"v","t":262,"v":1210},{"p":"b","s":"Gauge","q":"v","t":266,"v":1220},{"p":"b","s":"Gauge","q":"v","t":269,"v":1175},{"p":"b","s":"Gauge","q":"v","t":273,"v":1240},{"p":"b","s":"Gauge","q":"v","t":276,"v":1240},{"p":"b","s":"Gauge","q":"v","t":279,"v":1220},{"p":"b","s":"Gauge","q":"v","t":283,"v":1070},{"p":"b","s":"Gauge","q":"v","t":285,"v":1240},{"p":"b","s":"Gauge","q":"v","t":288,"v":1275},{"p":"b","s":"Gauge","q":"v","t":291,"v":1210},{"p":"b","s":"Gauge","q":"v","t":295,"v":965},{"p":"b","s":"Gauge","q":"v","t":298,"v":865},{"p":"b","s":"Gauge","q":"v","t":301,"v":795},{"p":"b","s":"Gauge","q":"v","t":305,"v":760},{"p":"b","s":"Gauge","q":"v","t":308,"v":830},{"p":"b","s":"Gauge","q":"v","t":312,"v":895},{"p":"b","s":"Gauge","q":"v","t":315,"v":930},{"p":"b","s":"Gauge","q":"v","t":318,"v":930},{"p":"b","s":"Gauge","q":"v","t":321,"v":1240},{"p":"b","s":"Gauge","q":"v","t":324,"v":1795},{"p":"b","s":"Gauge","q":"v","t":326,"v":1900},{"p":"b","s":"Gauge","q":"v","t":330,"v":1795},{"p":"b","s":"Gauge","q":"v","t":332,"v":1900},{"p":"b","s":"Gauge","q":"v","t":335,"v":1795},{"p":"b","s":"Gauge","q":"v","t":338,"v":2035},{"p":"b","s":"Gauge","q":"v","t":341,"v":1760},{"p":"b","s":"Gauge","q":"v","t":343,"v":1485},{"p":"b","s":"Gauge","q":"v","t":346,"v":1240},{"p":"b","s":"Gauge","q":"v","t":349,"v":1310},{"p":"b","s":"Gauge","q":"v","t":352,"v":1485},{"p":"b","s":"Gauge","q":"v","t":355,"v":1550},{"p":"b","s":"Gauge","q":"v","t":357,"v":1485},{"p":"b","s":"Gauge","q":"v","t":361,"v":1345},{"p":"b","s":"Gauge","q":"v","t":364,"v":1210},{"p":"b","s":"Gauge","q":"v","t":368,"v":1035},{"p":"b","s":"Gauge","q":"v","t":371,"v":930},{"p":"b","s":"Gauge","q":"v","t":374,"v":830},{"p":"b","s":"Gauge","q":"v","t":378,"v":740},{"p":"b","s":"Gauge","q":"v","t":382,"v":725},{"p":"b","s":"Gauge","q":"v","t":386,"v":655},{"p":"b","s":"Gauge","q":"v","t":390,"v":585},{"p":"b","s":"Gauge","q":"v","t":394,"v":575},
{"p":"b","s":"IMERG","q":"c","t":0,"v":520},{"p":"b","s":"IMERG","q":"c","t":3,"v":585},{"p":"b","s":"IMERG","q":"c","t":6,"v":690},{"p":"b","s":"IMERG","q":"c","t":10,"v":830},{"p":"b","s":"IMERG","q":"c","t":13,"v":725},{"p":"b","s":"IMERG","q":"c","t":17,"v":690},{"p":"b","s":"IMERG","q":"c","t":23,"v":690},{"p":"b","s":"IMERG","q":"c","t":28,"v":620},{"p":"b","s":"IMERG","q":"c","t":32,"v":585},{"p":"b","s":"IMERG","q":"c","t":36,"v":795},{"p":"b","s":"IMERG","q":"c","t":40,"v":965},{"p":"b","s":"IMERG","q":"c","t":44,"v":895},{"p":"b","s":"IMERG","q":"c","t":46,"v":1000},{"p":"b","s":"IMERG","q":"c","t":50,"v":1035},{"p":"b","s":"IMERG","q":"c","t":53,"v":1415},{"p":"b","s":"IMERG","q":"c","t":57,"v":1965},{"p":"b","s":"IMERG","q":"c","t":61,"v":2520},{"p":"b","s":"IMERG","q":"c","t":63,"v":2415},{"p":"b","s":"IMERG","q":"c","t":66,"v":2380},{"p":"b","s":"IMERG","q":"c","t":68,"v":2105},{"p":"b","s":"IMERG","q":"c","t":71,"v":1900},{"p":"b","s":"IMERG","q":"c","t":73,"v":2520},{"p":"b","s":"IMERG","q":"c","t":75,"v":2590},{"p":"b","s":"IMERG","q":"c","t":78,"v":2380},{"p":"b","s":"IMERG","q":"c","t":80,"v":1760},{"p":"b","s":"IMERG","q":"c","t":84,"v":1520},{"p":"b","s":"IMERG","q":"c","t":87,"v":1620},{"p":"b","s":"IMERG","q":"c","t":90,"v":1415},{"p":"b","s":"IMERG","q":"c","t":93,"v":1345},{"p":"b","s":"IMERG","q":"c","t":96,"v":1140},{"p":"b","s":"IMERG","q":"c","t":98,"v":1175},{"p":"b","s":"IMERG","q":"c","t":101,"v":1550},{"p":"b","s":"IMERG","q":"c","t":103,"v":2035},{"p":"b","s":"IMERG","q":"c","t":106,"v":2380},{"p":"b","s":"IMERG","q":"c","t":108,"v":3000},{"p":"b","s":"IMERG","q":"c","t":110,"v":3245},{"p":"b","s":"IMERG","q":"c","t":113,"v":3140},{"p":"b","s":"IMERG","q":"c","t":114,"v":3070},{"p":"b","s":"IMERG","q":"c","t":116,"v":2725},{"p":"b","s":"IMERG","q":"c","t":119,"v":2245},{"p":"b","s":"IMERG","q":"c","t":121,"v":1965},{"p":"b","s":"IMERG","q":"c","t":124,"v":1655},{"p":"b","s":"IMERG","q":"c","t":126,"v":1760},{"p":"b","s":"IMERG","q":"c","t":130,"v":1830},{"p":"b","s":"IMERG","q":"c","t":133,"v":1760},{"p":"b","s":"IMERG","q":"c","t":136,"v":1865},{"p":"b","s":"IMERG","q":"c","t":140,"v":1620},{"p":"b","s":"IMERG","q":"c","t":143,"v":1550},{"p":"b","s":"IMERG","q":"c","t":146,"v":1865},{"p":"b","s":"IMERG","q":"c","t":148,"v":1620},{"p":"b","s":"IMERG","q":"c","t":152,"v":1830},{"p":"b","s":"IMERG","q":"c","t":154,"v":1795},{"p":"b","s":"IMERG","q":"c","t":157,"v":1345},{"p":"b","s":"IMERG","q":"c","t":160,"v":1070},{"p":"b","s":"IMERG","q":"c","t":163,"v":895},{"p":"b","s":"IMERG","q":"c","t":168,"v":760},{"p":"b","s":"IMERG","q":"c","t":172,"v":655},{"p":"b","s":"IMERG","q":"c","t":176,"v":620},{"p":"b","s":"IMERG","q":"c","t":180,"v":740},{"p":"b","s":"IMERG","q":"c","t":181,"v":600},{"p":"b","s":"IMERG","q":"c","t":183,"v":565},
{"p":"b","s":"IMERG","q":"v","t":211,"v":485},{"p":"b","s":"IMERG","q":"v","t":215,"v":520},{"p":"b","s":"IMERG","q":"v","t":220,"v":655},{"p":"b","s":"IMERG","q":"v","t":225,"v":830},{"p":"b","s":"IMERG","q":"v","t":228,"v":965},{"p":"b","s":"IMERG","q":"v","t":232,"v":1345},{"p":"b","s":"IMERG","q":"v","t":234,"v":1105},{"p":"b","s":"IMERG","q":"v","t":237,"v":1035},{"p":"b","s":"IMERG","q":"v","t":240,"v":930},{"p":"b","s":"IMERG","q":"v","t":245,"v":865},{"p":"b","s":"IMERG","q":"v","t":248,"v":865},{"p":"b","s":"IMERG","q":"v","t":250,"v":1140},{"p":"b","s":"IMERG","q":"v","t":253,"v":1035},{"p":"b","s":"IMERG","q":"v","t":256,"v":865},{"p":"b","s":"IMERG","q":"v","t":259,"v":1000},{"p":"b","s":"IMERG","q":"v","t":262,"v":1055},{"p":"b","s":"IMERG","q":"v","t":266,"v":1105},{"p":"b","s":"IMERG","q":"v","t":269,"v":1140},{"p":"b","s":"IMERG","q":"v","t":273,"v":1590},{"p":"b","s":"IMERG","q":"v","t":276,"v":1550},{"p":"b","s":"IMERG","q":"v","t":279,"v":1485},{"p":"b","s":"IMERG","q":"v","t":282,"v":1450},{"p":"b","s":"IMERG","q":"v","t":284,"v":1795},{"p":"b","s":"IMERG","q":"v","t":286,"v":1725},{"p":"b","s":"IMERG","q":"v","t":288,"v":1760},{"p":"b","s":"IMERG","q":"v","t":290,"v":1865},{"p":"b","s":"IMERG","q":"v","t":293,"v":1550},{"p":"b","s":"IMERG","q":"v","t":296,"v":1140},{"p":"b","s":"IMERG","q":"v","t":299,"v":930},{"p":"b","s":"IMERG","q":"v","t":302,"v":865},{"p":"b","s":"IMERG","q":"v","t":306,"v":865},{"p":"b","s":"IMERG","q":"v","t":309,"v":1035},{"p":"b","s":"IMERG","q":"v","t":312,"v":930},{"p":"b","s":"IMERG","q":"v","t":316,"v":1175},{"p":"b","s":"IMERG","q":"v","t":319,"v":1275},{"p":"b","s":"IMERG","q":"v","t":322,"v":1760},{"p":"b","s":"IMERG","q":"v","t":324,"v":2415},{"p":"b","s":"IMERG","q":"v","t":327,"v":2380},{"p":"b","s":"IMERG","q":"v","t":329,"v":2245},{"p":"b","s":"IMERG","q":"v","t":331,"v":2435},{"p":"b","s":"IMERG","q":"v","t":332,"v":2105},{"p":"b","s":"IMERG","q":"v","t":335,"v":1900},{"p":"b","s":"IMERG","q":"v","t":337,"v":1760},{"p":"b","s":"IMERG","q":"v","t":340,"v":1415},{"p":"b","s":"IMERG","q":"v","t":342,"v":1310},{"p":"b","s":"IMERG","q":"v","t":345,"v":1140},{"p":"b","s":"IMERG","q":"v","t":348,"v":1415},{"p":"b","s":"IMERG","q":"v","t":351,"v":1760},{"p":"b","s":"IMERG","q":"v","t":352,"v":2000},{"p":"b","s":"IMERG","q":"v","t":355,"v":1690},{"p":"b","s":"IMERG","q":"v","t":358,"v":1620},{"p":"b","s":"IMERG","q":"v","t":362,"v":1520},{"p":"b","s":"IMERG","q":"v","t":365,"v":1415},{"p":"b","s":"IMERG","q":"v","t":369,"v":1275},{"p":"b","s":"IMERG","q":"v","t":373,"v":1140},{"p":"b","s":"IMERG","q":"v","t":376,"v":930},{"p":"b","s":"IMERG","q":"v","t":380,"v":830},{"p":"b","s":"IMERG","q":"v","t":383,"v":795},{"p":"b","s":"IMERG","q":"v","t":386,"v":690},{"p":"b","s":"IMERG","q":"v","t":390,"v":600},{"p":"b","s":"IMERG","q":"v","t":394,"v":585},
{"p":"b","s":"3B42","q":"c","t":0,"v":520},{"p":"b","s":"3B42","q":"c","t":2,"v":620},{"p":"b","s":"3B42","q":"c","t":6,"v":1035},{"p":"b","s":"3B42","q":"c","t":8,"v":965},{"p":"b","s":"3B42","q":"c","t":11,"v":1070},{"p":"b","s":"3B42","q":"c","t":13,"v":1070},{"p":"b","s":"3B42","q":"c","t":17,"v":965},{"p":"b","s":"3B42","q":"c","t":19,"v":865},{"p":"b","s":"3B42","q":"c","t":23,"v":655},{"p":"b","s":"3B42","q":"c","t":27,"v":585},{"p":"b","s":"3B42","q":"c","t":31,"v":530},{"p":"b","s":"3B42","q":"c","t":35,"v":550},{"p":"b","s":"3B42","q":"c","t":40,"v":655},{"p":"b","s":"3B42","q":"c","t":43,"v":930},{"p":"b","s":"3B42","q":"c","t":47,"v":965},{"p":"b","s":"3B42","q":"c","t":51,"v":1140},{"p":"b","s":"3B42","q":"c","t":53,"v":1345},{"p":"b","s":"3B42","q":"c","t":57,"v":1690},{"p":"b","s":"3B42","q":"c","t":59,"v":1965},{"p":"b","s":"3B42","q":"c","t":62,"v":2140},{"p":"b","s":"3B42","q":"c","t":65,"v":2380},{"p":"b","s":"3B42","q":"c","t":68,"v":2035},{"p":"b","s":"3B42","q":"c","t":70,"v":1865},{"p":"b","s":"3B42","q":"c","t":73,"v":2245},{"p":"b","s":"3B42","q":"c","t":75,"v":2245},{"p":"b","s":"3B42","q":"c","t":78,"v":1830},{"p":"b","s":"3B42","q":"c","t":80,"v":1550},{"p":"b","s":"3B42","q":"c","t":84,"v":1485},{"p":"b","s":"3B42","q":"c","t":87,"v":1690},{"p":"b","s":"3B42","q":"c","t":90,"v":1240},{"p":"b","s":"3B42","q":"c","t":93,"v":1070},{"p":"b","s":"3B42","q":"c","t":96,"v":965},{"p":"b","s":"3B42","q":"c","t":98,"v":1070},{"p":"b","s":"3B42","q":"c","t":101,"v":1415},{"p":"b","s":"3B42","q":"c","t":103,"v":1795},{"p":"b","s":"3B42","q":"c","t":106,"v":1900},{"p":"b","s":"3B42","q":"c","t":108,"v":2380},{"p":"b","s":"3B42","q":"c","t":110,"v":2625},{"p":"b","s":"3B42","q":"c","t":113,"v":2415},{"p":"b","s":"3B42","q":"c","t":115,"v":2380},{"p":"b","s":"3B42","q":"c","t":118,"v":2035},{"p":"b","s":"3B42","q":"c","t":120,"v":1965},{"p":"b","s":"3B42","q":"c","t":123,"v":1590},{"p":"b","s":"3B42","q":"c","t":125,"v":1620},{"p":"b","s":"3B42","q":"c","t":129,"v":1760},{"p":"b","s":"3B42","q":"c","t":132,"v":1795},{"p":"b","s":"3B42","q":"c","t":135,"v":1965},{"p":"b","s":"3B42","q":"c","t":138,"v":1795},{"p":"b","s":"3B42","q":"c","t":141,"v":1550},{"p":"b","s":"3B42","q":"c","t":145,"v":1550},{"p":"b","s":"3B42","q":"c","t":147,"v":1690},{"p":"b","s":"3B42","q":"c","t":150,"v":1690},{"p":"b","s":"3B42","q":"c","t":152,"v":1760},{"p":"b","s":"3B42","q":"c","t":155,"v":1310},{"p":"b","s":"3B42","q":"c","t":158,"v":1070},{"p":"b","s":"3B42","q":"c","t":162,"v":895},{"p":"b","s":"3B42","q":"c","t":166,"v":760},{"p":"b","s":"3B42","q":"c","t":170,"v":620},{"p":"b","s":"3B42","q":"c","t":175,"v":565},{"p":"b","s":"3B42","q":"c","t":179,"v":565},{"p":"b","s":"3B42","q":"c","t":183,"v":550},
{"p":"b","s":"3B42","q":"v","t":211,"v":505},{"p":"b","s":"3B42","q":"v","t":215,"v":550},{"p":"b","s":"3B42","q":"v","t":220,"v":585},{"p":"b","s":"3B42","q":"v","t":225,"v":795},{"p":"b","s":"3B42","q":"v","t":228,"v":1000},{"p":"b","s":"3B42","q":"v","t":231,"v":1310},{"p":"b","s":"3B42","q":"v","t":234,"v":1485},{"p":"b","s":"3B42","q":"v","t":236,"v":1240},{"p":"b","s":"3B42","q":"v","t":240,"v":1175},{"p":"b","s":"3B42","q":"v","t":243,"v":930},{"p":"b","s":"3B42","q":"v","t":246,"v":795},{"p":"b","s":"3B42","q":"v","t":250,"v":690},{"p":"b","s":"3B42","q":"v","t":253,"v":1000},{"p":"b","s":"3B42","q":"v","t":256,"v":795},{"p":"b","s":"3B42","q":"v","t":259,"v":930},{"p":"b","s":"3B42","q":"v","t":262,"v":1000},{"p":"b","s":"3B42","q":"v","t":266,"v":1140},{"p":"b","s":"3B42","q":"v","t":269,"v":1275},{"p":"b","s":"3B42","q":"v","t":273,"v":1550},{"p":"b","s":"3B42","q":"v","t":276,"v":1520},{"p":"b","s":"3B42","q":"v","t":279,"v":1415},{"p":"b","s":"3B42","q":"v","t":283,"v":1345},{"p":"b","s":"3B42","q":"v","t":285,"v":1485},{"p":"b","s":"3B42","q":"v","t":288,"v":1450},{"p":"b","s":"3B42","q":"v","t":291,"v":1380},{"p":"b","s":"3B42","q":"v","t":295,"v":1105},{"p":"b","s":"3B42","q":"v","t":298,"v":930},{"p":"b","s":"3B42","q":"v","t":301,"v":865},{"p":"b","s":"3B42","q":"v","t":305,"v":830},{"p":"b","s":"3B42","q":"v","t":308,"v":1000},{"p":"b","s":"3B42","q":"v","t":312,"v":895},{"p":"b","s":"3B42","q":"v","t":315,"v":1345},{"p":"b","s":"3B42","q":"v","t":318,"v":1345},{"p":"b","s":"3B42","q":"v","t":321,"v":1620},{"p":"b","s":"3B42","q":"v","t":324,"v":1900},{"p":"b","s":"3B42","q":"v","t":327,"v":1830},{"p":"b","s":"3B42","q":"v","t":330,"v":1935},{"p":"b","s":"3B42","q":"v","t":332,"v":2035},{"p":"b","s":"3B42","q":"v","t":335,"v":1830},{"p":"b","s":"3B42","q":"v","t":337,"v":1620},{"p":"b","s":"3B42","q":"v","t":340,"v":1275},{"p":"b","s":"3B42","q":"v","t":343,"v":1380},{"p":"b","s":"3B42","q":"v","t":346,"v":1380},{"p":"b","s":"3B42","q":"v","t":350,"v":1485},{"p":"b","s":"3B42","q":"v","t":353,"v":1690},{"p":"b","s":"3B42","q":"v","t":357,"v":1690},{"p":"b","s":"3B42","q":"v","t":360,"v":1590},{"p":"b","s":"3B42","q":"v","t":363,"v":1380},{"p":"b","s":"3B42","q":"v","t":367,"v":1210},{"p":"b","s":"3B42","q":"v","t":370,"v":1035},{"p":"b","s":"3B42","q":"v","t":374,"v":865},{"p":"b","s":"3B42","q":"v","t":377,"v":760},{"p":"b","s":"3B42","q":"v","t":381,"v":690},{"p":"b","s":"3B42","q":"v","t":386,"v":620},{"p":"b","s":"3B42","q":"v","t":390,"v":550},{"p":"b","s":"3B42","q":"v","t":394,"v":550},
{"p":"c","s":"Gauge","q":"c","t":0,"v":425},{"p":"c","s":"Gauge","q":"c","t":3,"v":460},{"p":"c","s":"Gauge","q":"c","t":7,"v":530},{"p":"c","s":"Gauge","q":"c","t":10,"v":635},{"p":"c","s":"Gauge","q":"c","t":13,"v":565},{"p":"c","s":"Gauge","q":"c","t":17,"v":565},{"p":"c","s":"Gauge","q":"c","t":23,"v":545},{"p":"c","s":"Gauge","q":"c","t":28,"v":530},{"p":"c","s":"Gauge","q":"c","t":33,"v":530},{"p":"c","s":"Gauge","q":"c","t":38,"v":600},{"p":"c","s":"Gauge","q":"c","t":42,"v":655},{"p":"c","s":"Gauge","q":"c","t":46,"v":665},{"p":"c","s":"Gauge","q":"c","t":50,"v":735},{"p":"c","s":"Gauge","q":"c","t":53,"v":940},{"p":"c","s":"Gauge","q":"c","t":57,"v":1150},{"p":"c","s":"Gauge","q":"c","t":60,"v":1285},{"p":"c","s":"Gauge","q":"c","t":63,"v":1595},{"p":"c","s":"Gauge","q":"c","t":67,"v":1525},{"p":"c","s":"Gauge","q":"c","t":69,"v":1425},{"p":"c","s":"Gauge","q":"c","t":71,"v":1525},{"p":"c","s":"Gauge","q":"c","t":73,"v":1630},{"p":"c","s":"Gauge","q":"c","t":75,"v":1700},{"p":"c","s":"Gauge","q":"c","t":78,"v":1595},{"p":"c","s":"Gauge","q":"c","t":80,"v":1525},{"p":"c","s":"Gauge","q":"c","t":84,"v":1495},{"p":"c","s":"Gauge","q":"c","t":87,"v":1425},{"p":"c","s":"Gauge","q":"c","t":91,"v":1320},{"p":"c","s":"Gauge","q":"c","t":94,"v":1285},{"p":"c","s":"Gauge","q":"c","t":97,"v":1285},{"p":"c","s":"Gauge","q":"c","t":101,"v":1425},{"p":"c","s":"Gauge","q":"c","t":104,"v":1495},{"p":"c","s":"Gauge","q":"c","t":107,"v":1595},{"p":"c","s":"Gauge","q":"c","t":110,"v":1665},{"p":"c","s":"Gauge","q":"c","t":113,"v":1595},{"p":"c","s":"Gauge","q":"c","t":116,"v":1700},{"p":"c","s":"Gauge","q":"c","t":119,"v":1800},{"p":"c","s":"Gauge","q":"c","t":123,"v":1700},{"p":"c","s":"Gauge","q":"c","t":127,"v":1700},{"p":"c","s":"Gauge","q":"c","t":131,"v":1700},{"p":"c","s":"Gauge","q":"c","t":135,"v":1630},{"p":"c","s":"Gauge","q":"c","t":138,"v":1525},{"p":"c","s":"Gauge","q":"c","t":141,"v":1390},{"p":"c","s":"Gauge","q":"c","t":144,"v":1250},{"p":"c","s":"Gauge","q":"c","t":147,"v":1285},{"p":"c","s":"Gauge","q":"c","t":149,"v":1355},{"p":"c","s":"Gauge","q":"c","t":153,"v":1495},{"p":"c","s":"Gauge","q":"c","t":156,"v":1250},{"p":"c","s":"Gauge","q":"c","t":159,"v":1010},{"p":"c","s":"Gauge","q":"c","t":163,"v":770},{"p":"c","s":"Gauge","q":"c","t":168,"v":565},{"p":"c","s":"Gauge","q":"c","t":172,"v":530},{"p":"c","s":"Gauge","q":"c","t":177,"v":530},{"p":"c","s":"Gauge","q":"c","t":183,"v":495},
{"p":"c","s":"Gauge","q":"v","t":211,"v":495},{"p":"c","s":"Gauge","q":"v","t":215,"v":495},{"p":"c","s":"Gauge","q":"v","t":220,"v":545},{"p":"c","s":"Gauge","q":"v","t":225,"v":600},{"p":"c","s":"Gauge","q":"v","t":228,"v":735},{"p":"c","s":"Gauge","q":"v","t":232,"v":895},{"p":"c","s":"Gauge","q":"v","t":234,"v":770},{"p":"c","s":"Gauge","q":"v","t":238,"v":805},{"p":"c","s":"Gauge","q":"v","t":242,"v":840},{"p":"c","s":"Gauge","q":"v","t":247,"v":840},{"p":"c","s":"Gauge","q":"v","t":252,"v":840},{"p":"c","s":"Gauge","q":"v","t":257,"v":840},{"p":"c","s":"Gauge","q":"v","t":262,"v":875},{"p":"c","s":"Gauge","q":"v","t":268,"v":805},{"p":"c","s":"Gauge","q":"v","t":273,"v":875},{"p":"c","s":"Gauge","q":"v","t":278,"v":875},{"p":"c","s":"Gauge","q":"v","t":283,"v":735},{"p":"c","s":"Gauge","q":"v","t":286,"v":910},{"p":"c","s":"Gauge","q":"v","t":290,"v":940},{"p":"c","s":"Gauge","q":"v","t":293,"v":840},{"p":"c","s":"Gauge","q":"v","t":297,"v":665},{"p":"c","s":"Gauge","q":"v","t":302,"v":585},{"p":"c","s":"Gauge","q":"v","t":305,"v":565},{"p":"c","s":"Gauge","q":"v","t":308,"v":635},{"p":"c","s":"Gauge","q":"v","t":313,"v":700},{"p":"c","s":"Gauge","q":"v","t":317,"v":735},{"p":"c","s":"Gauge","q":"v","t":320,"v":840},{"p":"c","s":"Gauge","q":"v","t":323,"v":1250},{"p":"c","s":"Gauge","q":"v","t":325,"v":1355},{"p":"c","s":"Gauge","q":"v","t":329,"v":1185},{"p":"c","s":"Gauge","q":"v","t":332,"v":1355},{"p":"c","s":"Gauge","q":"v","t":335,"v":1285},{"p":"c","s":"Gauge","q":"v","t":337,"v":1045},{"p":"c","s":"Gauge","q":"v","t":341,"v":940},{"p":"c","s":"Gauge","q":"v","t":345,"v":910},{"p":"c","s":"Gauge","q":"v","t":349,"v":940},{"p":"c","s":"Gauge","q":"v","t":352,"v":975},{"p":"c","s":"Gauge","q":"v","t":356,"v":910},{"p":"c","s":"Gauge","q":"v","t":360,"v":805},{"p":"c","s":"Gauge","q":"v","t":364,"v":735},{"p":"c","s":"Gauge","q":"v","t":369,"v":665},{"p":"c","s":"Gauge","q":"v","t":373,"v":600},{"p":"c","s":"Gauge","q":"v","t":378,"v":565},{"p":"c","s":"Gauge","q":"v","t":383,"v":530},{"p":"c","s":"Gauge","q":"v","t":388,"v":515},{"p":"c","s":"Gauge","q":"v","t":394,"v":530},
{"p":"c","s":"IMERG","q":"c","t":0,"v":460},{"p":"c","s":"IMERG","q":"c","t":3,"v":495},{"p":"c","s":"IMERG","q":"c","t":6,"v":565},{"p":"c","s":"IMERG","q":"c","t":10,"v":680},{"p":"c","s":"IMERG","q":"c","t":13,"v":600},{"p":"c","s":"IMERG","q":"c","t":17,"v":565},{"p":"c","s":"IMERG","q":"c","t":23,"v":545},{"p":"c","s":"IMERG","q":"c","t":27,"v":460},{"p":"c","s":"IMERG","q":"c","t":31,"v":495},{"p":"c","s":"IMERG","q":"c","t":35,"v":770},{"p":"c","s":"IMERG","q":"c","t":40,"v":805},{"p":"c","s":"IMERG","q":"c","t":43,"v":805},{"p":"c","s":"IMERG","q":"c","t":46,"v":875},{"p":"c","s":"IMERG","q":"c","t":50,"v":1010},{"p":"c","s":"IMERG","q":"c","t":53,"v":1285},{"p":"c","s":"IMERG","q":"c","t":57,"v":1975},{"p":"c","s":"IMERG","q":"c","t":59,"v":2180},{"p":"c","s":"IMERG","q":"c","t":62,"v":2145},{"p":"c","s":"IMERG","q":"c","t":64,"v":2180},{"p":"c","s":"IMERG","q":"c","t":67,"v":1975},{"p":"c","s":"IMERG","q":"c","t":69,"v":1905},{"p":"c","s":"IMERG","q":"c","t":72,"v":2215},{"p":"c","s":"IMERG","q":"c","t":74,"v":2145},{"p":"c","s":"IMERG","q":"c","t":76,"v":2215},{"p":"c","s":"IMERG","q":"c","t":79,"v":1905},{"p":"c","s":"IMERG","q":"c","t":82,"v":1770},{"p":"c","s":"IMERG","q":"c","t":85,"v":1700},{"p":"c","s":"IMERG","q":"c","t":88,"v":1630},{"p":"c","s":"IMERG","q":"c","t":90,"v":1390},{"p":"c","s":"IMERG","q":"c","t":94,"v":1320},{"p":"c","s":"IMERG","q":"c","t":97,"v":1355},{"p":"c","s":"IMERG","q":"c","t":101,"v":1630},{"p":"c","s":"IMERG","q":"c","t":102,"v":2110},{"p":"c","s":"IMERG","q":"c","t":105,"v":2320},{"p":"c","s":"IMERG","q":"c","t":107,"v":2730},{"p":"c","s":"IMERG","q":"c","t":109,"v":2870},{"p":"c","s":"IMERG","q":"c","t":111,"v":2800},{"p":"c","s":"IMERG","q":"c","t":113,"v":2630},{"p":"c","s":"IMERG","q":"c","t":116,"v":2385},{"p":"c","s":"IMERG","q":"c","t":119,"v":1835},{"p":"c","s":"IMERG","q":"c","t":121,"v":1700},{"p":"c","s":"IMERG","q":"c","t":124,"v":1770},{"p":"c","s":"IMERG","q":"c","t":127,"v":1940},{"p":"c","s":"IMERG","q":"c","t":130,"v":1905},{"p":"c","s":"IMERG","q":"c","t":134,"v":1975},{"p":"c","s":"IMERG","q":"c","t":136,"v":2045},{"p":"c","s":"IMERG","q":"c","t":140,"v":1770},{"p":"c","s":"IMERG","q":"c","t":143,"v":1630},{"p":"c","s":"IMERG","q":"c","t":146,"v":1835},{"p":"c","s":"IMERG","q":"c","t":148,"v":1665},{"p":"c","s":"IMERG","q":"c","t":152,"v":1735},{"p":"c","s":"IMERG","q":"c","t":154,"v":1630},{"p":"c","s":"IMERG","q":"c","t":157,"v":1220},{"p":"c","s":"IMERG","q":"c","t":160,"v":975},{"p":"c","s":"IMERG","q":"c","t":163,"v":805},{"p":"c","s":"IMERG","q":"c","t":167,"v":600},{"p":"c","s":"IMERG","q":"c","t":172,"v":530},{"p":"c","s":"IMERG","q":"c","t":177,"v":545},{"p":"c","s":"IMERG","q":"c","t":180,"v":645},{"p":"c","s":"IMERG","q":"c","t":181,"v":515},{"p":"c","s":"IMERG","q":"c","t":183,"v":495},
{"p":"c","s":"IMERG","q":"v","t":211,"v":495},{"p":"c","s":"IMERG","q":"v","t":215,"v":515},{"p":"c","s":"IMERG","q":"v","t":220,"v":700},{"p":"c","s":"IMERG","q":"v","t":225,"v":770},{"p":"c","s":"IMERG","q":"v","t":228,"v":875},{"p":"c","s":"IMERG","q":"v","t":232,"v":1095},{"p":"c","s":"IMERG","q":"v","t":234,"v":875},{"p":"c","s":"IMERG","q":"v","t":238,"v":805},{"p":"c","s":"IMERG","q":"v","t":242,"v":770},{"p":"c","s":"IMERG","q":"v","t":246,"v":735},{"p":"c","s":"IMERG","q":"v","t":250,"v":910},{"p":"c","s":"IMERG","q":"v","t":253,"v":840},{"p":"c","s":"IMERG","q":"v","t":257,"v":735},{"p":"c","s":"IMERG","q":"v","t":260,"v":805},{"p":"c","s":"IMERG","q":"v","t":263,"v":875},{"p":"c","s":"IMERG","q":"v","t":268,"v":910},{"p":"c","s":"IMERG","q":"v","t":273,"v":1220},{"p":"c","s":"IMERG","q":"v","t":276,"v":1250},{"p":"c","s":"IMERG","q":"v","t":279,"v":1150},{"p":"c","s":"IMERG","q":"v","t":283,"v":1150},{"p":"c","s":"IMERG","q":"v","t":286,"v":1250},{"p":"c","s":"IMERG","q":"v","t":289,"v":1285},{"p":"c","s":"IMERG","q":"v","t":291,"v":1320},{"p":"c","s":"IMERG","q":"v","t":295,"v":975},{"p":"c","s":"IMERG","q":"v","t":298,"v":735},{"p":"c","s":"IMERG","q":"v","t":302,"v":665},{"p":"c","s":"IMERG","q":"v","t":305,"v":600},{"p":"c","s":"IMERG","q":"v","t":308,"v":770},{"p":"c","s":"IMERG","q":"v","t":313,"v":875},{"p":"c","s":"IMERG","q":"v","t":317,"v":940},{"p":"c","s":"IMERG","q":"v","t":320,"v":1045},{"p":"c","s":"IMERG","q":"v","t":323,"v":1700},{"p":"c","s":"IMERG","q":"v","t":324,"v":1735},{"p":"c","s":"IMERG","q":"v","t":327,"v":1390},{"p":"c","s":"IMERG","q":"v","t":330,"v":1595},{"p":"c","s":"IMERG","q":"v","t":333,"v":1285},{"p":"c","s":"IMERG","q":"v","t":335,"v":1150},{"p":"c","s":"IMERG","q":"v","t":339,"v":910},{"p":"c","s":"IMERG","q":"v","t":342,"v":875},{"p":"c","s":"IMERG","q":"v","t":346,"v":875},{"p":"c","s":"IMERG","q":"v","t":349,"v":1185},{"p":"c","s":"IMERG","q":"v","t":352,"v":1355},{"p":"c","s":"IMERG","q":"v","t":354,"v":1150},{"p":"c","s":"IMERG","q":"v","t":357,"v":1010},{"p":"c","s":"IMERG","q":"v","t":363,"v":1010},{"p":"c","s":"IMERG","q":"v","t":366,"v":875},{"p":"c","s":"IMERG","q":"v","t":370,"v":735},{"p":"c","s":"IMERG","q":"v","t":374,"v":635},{"p":"c","s":"IMERG","q":"v","t":379,"v":635},{"p":"c","s":"IMERG","q":"v","t":383,"v":565},{"p":"c","s":"IMERG","q":"v","t":388,"v":495},{"p":"c","s":"IMERG","q":"v","t":394,"v":530},
{"p":"c","s":"3B42","q":"c","t":0,"v":495},{"p":"c","s":"3B42","q":"c","t":2,"v":600},{"p":"c","s":"3B42","q":"c","t":6,"v":910},{"p":"c","s":"3B42","q":"c","t":9,"v":1010},{"p":"c","s":"3B42","q":"c","t":11,"v":1025},{"p":"c","s":"3B42","q":"c","t":14,"v":940},{"p":"c","s":"3B42","q":"c","t":17,"v":735},{"p":"c","s":"3B42","q":"c","t":21,"v":565},{"p":"c","s":"3B42","q":"c","t":25,"v":460},{"p":"c","s":"3B42","q":"c","t":29,"v":425},{"p":"c","s":"3B42","q":"c","t":34,"v":425},{"p":"c","s":"3B42","q":"c","t":38,"v":495},{"p":"c","s":"3B42","q":"c","t":41,"v":700},{"p":"c","s":"3B42","q":"c","t":46,"v":875},{"p":"c","s":"3B42","q":"c","t":50,"v":975},{"p":"c","s":"3B42","q":"c","t":53,"v":1220},{"p":"c","s":"3B42","q":"c","t":57,"v":1700},{"p":"c","s":"3B42","q":"c","t":59,"v":1800},{"p":"c","s":"3B42","q":"c","t":62,"v":1940},{"p":"c","s":"3B42","q":"c","t":64,"v":1975},{"p":"c","s":"3B42","q":"c","t":67,"v":2045},{"p":"c","s":"3B42","q":"c","t":69,"v":1835},{"p":"c","s":"3B42","q":"c","t":72,"v":2045},{"p":"c","s":"3B42","q":"c","t":74,"v":1940},{"p":"c","s":"3B42","q":"c","t":77,"v":1700},{"p":"c","s":"3B42","q":"c","t":80,"v":1560},{"p":"c","s":"3B42","q":"c","t":84,"v":1495},{"p":"c","s":"3B42","q":"c","t":87,"v":1425},{"p":"c","s":"3B42","q":"c","t":90,"v":1150},{"p":"c","s":"3B42","q":"c","t":92,"v":1185},{"p":"c","s":"3B42","q":"c","t":96,"v":1220},{"p":"c","s":"3B42","q":"c","t":99,"v":1355},{"p":"c","s":"3B42","q":"c","t":102,"v":1770},{"p":"c","s":"3B42","q":"c","t":104,"v":1905},{"p":"c","s":"3B42","q":"c","t":107,"v":2250},{"p":"c","s":"3B42","q":"c","t":109,"v":2525},{"p":"c","s":"3B42","q":"c","t":111,"v":2250},{"p":"c","s":"3B42","q":"c","t":113,"v":2180},{"p":"c","s":"3B42","q":"c","t":116,"v":2045},{"p":"c","s":"3B42","q":"c","t":119,"v":1770},{"p":"c","s":"3B42","q":"c","t":121,"v":1630},{"p":"c","s":"3B42","q":"c","t":125,"v":1800},{"p":"c","s":"3B42","q":"c","t":128,"v":1870},{"p":"c","s":"3B42","q":"c","t":132,"v":1905},{"p":"c","s":"3B42","q":"c","t":135,"v":2045},{"p":"c","s":"3B42","q":"c","t":138,"v":1905},{"p":"c","s":"3B42","q":"c","t":141,"v":1700},{"p":"c","s":"3B42","q":"c","t":145,"v":1560},{"p":"c","s":"3B42","q":"c","t":148,"v":1700},{"p":"c","s":"3B42","q":"c","t":152,"v":1630},{"p":"c","s":"3B42","q":"c","t":155,"v":1150},{"p":"c","s":"3B42","q":"c","t":159,"v":940},{"p":"c","s":"3B42","q":"c","t":162,"v":805},{"p":"c","s":"3B42","q":"c","t":166,"v":635},{"p":"c","s":"3B42","q":"c","t":170,"v":545},{"p":"c","s":"3B42","q":"c","t":175,"v":515},{"p":"c","s":"3B42","q":"c","t":180,"v":480},{"p":"c","s":"3B42","q":"c","t":183,"v":475},
{"p":"c","s":"3B42","q":"v","t":211,"v":515},{"p":"c","s":"3B42","q":"v","t":215,"v":545},{"p":"c","s":"3B42","q":"v","t":220,"v":665},{"p":"c","s":"3B42","q":"v","t":225,"v":770},{"p":"c","s":"3B42","q":"v","t":228,"v":940},{"p":"c","s":"3B42","q":"v","t":231,"v":1115},{"p":"c","s":"3B42","q":"v","t":233,"v":1230},{"p":"c","s":"3B42","q":"v","t":235,"v":975},{"p":"c","s":"3B42","q":"v","t":239,"v":910},{"p":"c","s":"3B42","q":"v","t":242,"v":735},{"p":"c","s":"3B42","q":"v","t":246,"v":600},{"p":"c","s":"3B42","q":"v","t":250,"v":735},{"p":"c","s":"3B42","q":"v","t":253,"v":805},{"p":"c","s":"3B42","q":"v","t":257,"v":700},{"p":"c","s":"3B42","q":"v","t":260,"v":790},{"p":"c","s":"3B42","q":"v","t":263,"v":860},{"p":"c","s":"3B42","q":"v","t":267,"v":875},{"p":"c","s":"3B42","q":"v","t":271,"v":940},{"p":"c","s":"3B42","q":"v","t":274,"v":1185},{"p":"c","s":"3B42","q":"v","t":276,"v":1080},{"p":"c","s":"3B42","q":"v","t":279,"v":1010},{"p":"c","s":"3B42","q":"v","t":283,"v":1010},{"p":"c","s":"3B42","q":"v","t":286,"v":1080},{"p":"c","s":"3B42","q":"v","t":290,"v":1010},{"p":"c","s":"3B42","q":"v","t":293,"v":910},{"p":"c","s":"3B42","q":"v","t":296,"v":770},{"p":"c","s":"3B42","q":"v","t":300,"v":665},{"p":"c","s":"3B42","q":"v","t":303,"v":635},{"p":"c","s":"3B42","q":"v","t":307,"v":770},{"p":"c","s":"3B42","q":"v","t":310,"v":875},{"p":"c","s":"3B42","q":"v","t":313,"v":1010},{"p":"c","s":"3B42","q":"v","t":317,"v":1010},{"p":"c","s":"3B42","q":"v","t":320,"v":1150},{"p":"c","s":"3B42","q":"v","t":324,"v":1355},{"p":"c","s":"3B42","q":"v","t":326,"v":1320},{"p":"c","s":"3B42","q":"v","t":329,"v":1250},{"p":"c","s":"3B42","q":"v","t":332,"v":1390},{"p":"c","s":"3B42","q":"v","t":335,"v":1250},{"p":"c","s":"3B42","q":"v","t":337,"v":1010},{"p":"c","s":"3B42","q":"v","t":341,"v":975},{"p":"c","s":"3B42","q":"v","t":345,"v":940},{"p":"c","s":"3B42","q":"v","t":349,"v":1010},{"p":"c","s":"3B42","q":"v","t":353,"v":1185},{"p":"c","s":"3B42","q":"v","t":357,"v":1150},{"p":"c","s":"3B42","q":"v","t":360,"v":975},{"p":"c","s":"3B42","q":"v","t":363,"v":840},{"p":"c","s":"3B42","q":"v","t":368,"v":700},{"p":"c","s":"3B42","q":"v","t":372,"v":635},{"p":"c","s":"3B42","q":"v","t":376,"v":600},{"p":"c","s":"3B42","q":"v","t":381,"v":530},{"p":"c","s":"3B42","q":"v","t":386,"v":495},{"p":"c","s":"3B42","q":"v","t":390,"v":480},{"p":"c","s":"3B42","q":"v","t":394,"v":530}
]
},
"vconcat": [
{
 "width": 773, "height": 232,
 "layer": [
  {"data": {"name": "obs"},
   "mark": {"type": "area", "opacity": 1},
   "encoding": {
    "x": {"field": "t", "type": "quantitative", "scale": {"domain": [0, 394], "nice": false, "zero": false}, "axis": {"orient": "bottom", "values": [0,31,61,92,123,153,183,211,242,272,303,334,364,394], "labels": false, "tickSize": -6, "title": null}},
    "y": {"field": "v", "type": "quantitative", "stack": null, "scale": {"domain": [0, 4800], "nice": false}, "axis": {"orient": "left", "values": [0,500,1000,1500,2000,2500,3000,3500,4000,4500], "format": "d", "tickSize": -6, "labelPadding": 10, "title": "Streamflow (m³/s)", "titleFontSize": 13.5, "titlePadding": 10}},
    "detail": {"field": "q"},
    "color": {"datum": "Obs.", "type": "nominal", "scale": {"domain": ["Obs.", "Gauge", "IMERG", "3B42"], "range": ["#808080", "#000000", "#0000ff", "#ff0000"]},
     "legend": {"title": null, "orient": "top-right", "offset": 0, "padding": 5, "rowPadding": 0, "strokeColor": "#666", "fillColor": "#ffffff", "labelFont": "Liberation Sans", "labelFontWeight": "bold", "labelFontSize": 12.5, "labelColor": "#000", "symbolSize": 121, "labelOffset": 46, "symbolStrokeWidth": 1.1,
      "encode": {"symbols": {"update": {
        "shape": {"signal": "datum.value === 'Obs.' ? 'M-0.1,-0.9H8.8V0.9H-0.1Z' : 'M-0.1,0H8.8M4.71,0A0.38,0.38,0,1,1,3.95,0A0.38,0.38,0,1,1,4.71,0'"},
        "fill": {"signal": "datum.value === 'Obs.' ? '#808080' : datum.value === 'Gauge' ? '#000000' : datum.value === 'IMERG' ? '#0000ff' : '#ff0000'"},
        "stroke": {"signal": "datum.value === 'Obs.' ? '#808080' : datum.value === 'Gauge' ? '#000000' : datum.value === 'IMERG' ? '#0000ff' : '#ff0000'"},
        "strokeDash": {"signal": "datum.value === 'Obs.' ? [1,0] : [5,2,1.5,2]"},
        "opacity": {"value": 1}, "fillOpacity": {"value": 1}, "strokeOpacity": {"value": 1}}}}}}
   }},
  {"data": {"name": "sim"},
   "transform": [{"filter": "datum.p == 'a'"}],
   "mark": {"type": "line", "strokeWidth": 1, "strokeDash": [5, 2, 1.5, 2], "point": {"filled": true, "size": 7}},
   "encoding": {
    "x": {"field": "t", "type": "quantitative", "axis": {"orient": "top", "values": [0,31,61,92,123,153,183,211,242,272,303,334,364,394], "labels": false, "tickSize": -6, "title": null}},
    "y": {"field": "v", "type": "quantitative", "axis": {"orient": "right", "values": [0,500,1000,1500,2000,2500,3000,3500,4000,4500], "labels": false, "tickSize": -6, "title": null}},
    "detail": {"field": "q"},
    "color": {"field": "s", "type": "nominal",
     "legend": {"title": null, "orient": "top-right", "offset": 0, "padding": 5, "rowPadding": 0, "strokeColor": "#666", "fillColor": "#ffffff", "labelFont": "Liberation Sans", "labelFontWeight": "bold", "labelFontSize": 12.5, "labelColor": "#000", "symbolSize": 121, "labelOffset": 46, "symbolStrokeWidth": 1.1,
      "encode": {"symbols": {"update": {
        "shape": {"signal": "datum.value === 'Obs.' ? 'M-0.1,-0.9H8.8V0.9H-0.1Z' : 'M-0.1,0H8.8M4.71,0A0.38,0.38,0,1,1,3.95,0A0.38,0.38,0,1,1,4.71,0'"},
        "fill": {"signal": "datum.value === 'Obs.' ? '#808080' : datum.value === 'Gauge' ? '#000000' : datum.value === 'IMERG' ? '#0000ff' : '#ff0000'"},
        "stroke": {"signal": "datum.value === 'Obs.' ? '#808080' : datum.value === 'Gauge' ? '#000000' : datum.value === 'IMERG' ? '#0000ff' : '#ff0000'"},
        "strokeDash": {"signal": "datum.value === 'Obs.' ? [1,0] : [5,2,1.5,2]"},
        "opacity": {"value": 1}, "fillOpacity": {"value": 1}, "strokeOpacity": {"value": 1}}}}}}
   }},
  {"data": {"values": [{}]}, "mark": {"type": "text", "text": "(a)", "fontSize": 19, "align": "left", "baseline": "middle"},
   "encoding": {"x": {"datum": 4, "type": "quantitative", "axis": null}, "y": {"datum": 4390, "type": "quantitative", "axis": null}}},
  {"data": {"values": [{}]}, "mark": {"type": "text", "text": "(Scenario I)", "fontSize": 15, "align": "center", "baseline": "middle"},
   "encoding": {"x": {"datum": 196, "type": "quantitative", "axis": null}, "y": {"datum": 4010, "type": "quantitative", "axis": null}}},
  {"data": {"values": [{}]}, "mark": {"type": "text", "text": "Calibration period", "fontSize": 15, "align": "center", "baseline": "middle"},
   "encoding": {"x": {"datum": 99, "type": "quantitative", "axis": null}, "y": {"datum": 5045, "type": "quantitative", "axis": null}}},
  {"data": {"values": [{}]}, "mark": {"type": "text", "text": "Validation period", "fontSize": 15, "align": "center", "baseline": "middle"},
   "encoding": {"x": {"datum": 292, "type": "quantitative", "axis": null}, "y": {"datum": 5045, "type": "quantitative", "axis": null}}},
  {"data": {"values": [{}]}, "mark": {"type": "rule", "strokeDash": [6, 4], "color": "#666", "strokeWidth": 1.2},
   "encoding": {"x": {"datum": 196.6, "type": "quantitative", "axis": null}, "y": {"datum": 4280, "type": "quantitative", "axis": null}, "y2": {"datum": 5300}}}
 ]
},
{
 "width": 773, "height": 232,
 "layer": [
  {"data": {"name": "obs"},
   "mark": {"type": "area", "opacity": 1},
   "encoding": {
    "x": {"field": "t", "type": "quantitative", "scale": {"domain": [0, 394], "nice": false, "zero": false}, "axis": {"orient": "bottom", "values": [0,31,61,92,123,153,183,211,242,272,303,334,364,394], "labels": false, "tickSize": -6, "title": null}},
    "y": {"field": "v", "type": "quantitative", "stack": null, "scale": {"domain": [0, 4800], "nice": false}, "axis": {"orient": "left", "values": [0,500,1000,1500,2000,2500,3000,3500,4000,4500], "format": "d", "tickSize": -6, "labelPadding": 10, "title": "Streamflow (m³/s)", "titleFontSize": 13.5, "titlePadding": 10}},
    "detail": {"field": "q"},
    "color": {"datum": "Obs.", "type": "nominal", "scale": {"domain": ["Obs.", "Gauge", "IMERG", "3B42"], "range": ["#808080", "#000000", "#0000ff", "#ff0000"]}, "legend": null}
   }},
  {"data": {"name": "sim"},
   "transform": [{"filter": "datum.p == 'b'"}],
   "mark": {"type": "line", "strokeWidth": 1, "strokeDash": [5, 2, 1.5, 2], "point": {"filled": true, "size": 7}},
   "encoding": {
    "x": {"field": "t", "type": "quantitative", "axis": {"orient": "top", "values": [0,31,61,92,123,153,183,211,242,272,303,334,364,394], "labels": false, "tickSize": -6, "title": null}},
    "y": {"field": "v", "type": "quantitative", "axis": {"orient": "right", "values": [0,500,1000,1500,2000,2500,3000,3500,4000,4500], "labels": false, "tickSize": -6, "title": null}},
    "detail": {"field": "q"},
    "color": {"field": "s", "type": "nominal", "legend": null}
   }},
  {"data": {"values": [{}]}, "mark": {"type": "text", "text": "(b)", "fontSize": 19, "align": "left", "baseline": "middle"},
   "encoding": {"x": {"datum": 4, "type": "quantitative", "axis": null}, "y": {"datum": 4390, "type": "quantitative", "axis": null}}},
  {"data": {"values": [{}]}, "mark": {"type": "text", "text": "(Scenario II)", "fontSize": 15, "align": "center", "baseline": "middle"},
   "encoding": {"x": {"datum": 195, "type": "quantitative", "axis": null}, "y": {"datum": 3940, "type": "quantitative", "axis": null}}}
 ]
},
{
 "width": 773, "height": 232,
 "layer": [
  {"data": {"name": "obs"},
   "mark": {"type": "area", "opacity": 1},
   "encoding": {
    "x": {"field": "t", "type": "quantitative", "scale": {"domain": [0, 394], "nice": false, "zero": false}, "axis": {"orient": "bottom", "values": [0,31,61,92,123,153,183,211,242,272,303,334,364,394], "labels": true, "labelFontSize": 13, "labelPadding": 15, "labelExpr": "['1/May','1/Jun','1/Jul','1/Aug','1/Sep','1/Oct','31/Oct','1/May','1/Jun','1/Jul','1/Aug','1/Sep','1/Oct','31/Oct'][indexof([0,31,61,92,123,153,183,211,242,272,303,334,364,394], datum.value)]", "tickSize": -6, "title": null}},
    "y": {"field": "v", "type": "quantitative", "stack": null, "scale": {"domain": [0, 4800], "nice": false}, "axis": {"orient": "left", "values": [0,500,1000,1500,2000,2500,3000,3500,4000,4500], "format": "d", "tickSize": -6, "labelPadding": 10, "title": "Streamflow (m³/s)", "titleFontSize": 13.5, "titlePadding": 10}},
    "detail": {"field": "q"},
    "color": {"datum": "Obs.", "type": "nominal", "scale": {"domain": ["Obs.", "Gauge", "IMERG", "3B42"], "range": ["#808080", "#000000", "#0000ff", "#ff0000"]}, "legend": null}
   }},
  {"data": {"name": "sim"},
   "transform": [{"filter": "datum.p == 'c'"}],
   "mark": {"type": "line", "strokeWidth": 1, "strokeDash": [5, 2, 1.5, 2], "point": {"filled": true, "size": 7}},
   "encoding": {
    "x": {"field": "t", "type": "quantitative", "axis": {"orient": "top", "values": [0,31,61,92,123,153,183,211,242,272,303,334,364,394], "labels": false, "tickSize": -6, "title": null}},
    "y": {"field": "v", "type": "quantitative", "axis": {"orient": "right", "values": [0,500,1000,1500,2000,2500,3000,3500,4000,4500], "labels": false, "tickSize": -6, "title": null}},
    "detail": {"field": "q"},
    "color": {"field": "s", "type": "nominal", "legend": null}
   }},
  {"data": {"values": [{}]}, "mark": {"type": "text", "text": "(c)", "fontSize": 19, "align": "left", "baseline": "middle"},
   "encoding": {"x": {"datum": 4, "type": "quantitative", "axis": null}, "y": {"datum": 4390, "type": "quantitative", "axis": null}}},
  {"data": {"values": [{}]}, "mark": {"type": "text", "text": "(Scenario III)", "fontSize": 15, "align": "center", "baseline": "middle"},
   "encoding": {"x": {"datum": 195, "type": "quantitative", "axis": null}, "y": {"datum": 3940, "type": "quantitative", "axis": null}}}
 ]
}
]
}
